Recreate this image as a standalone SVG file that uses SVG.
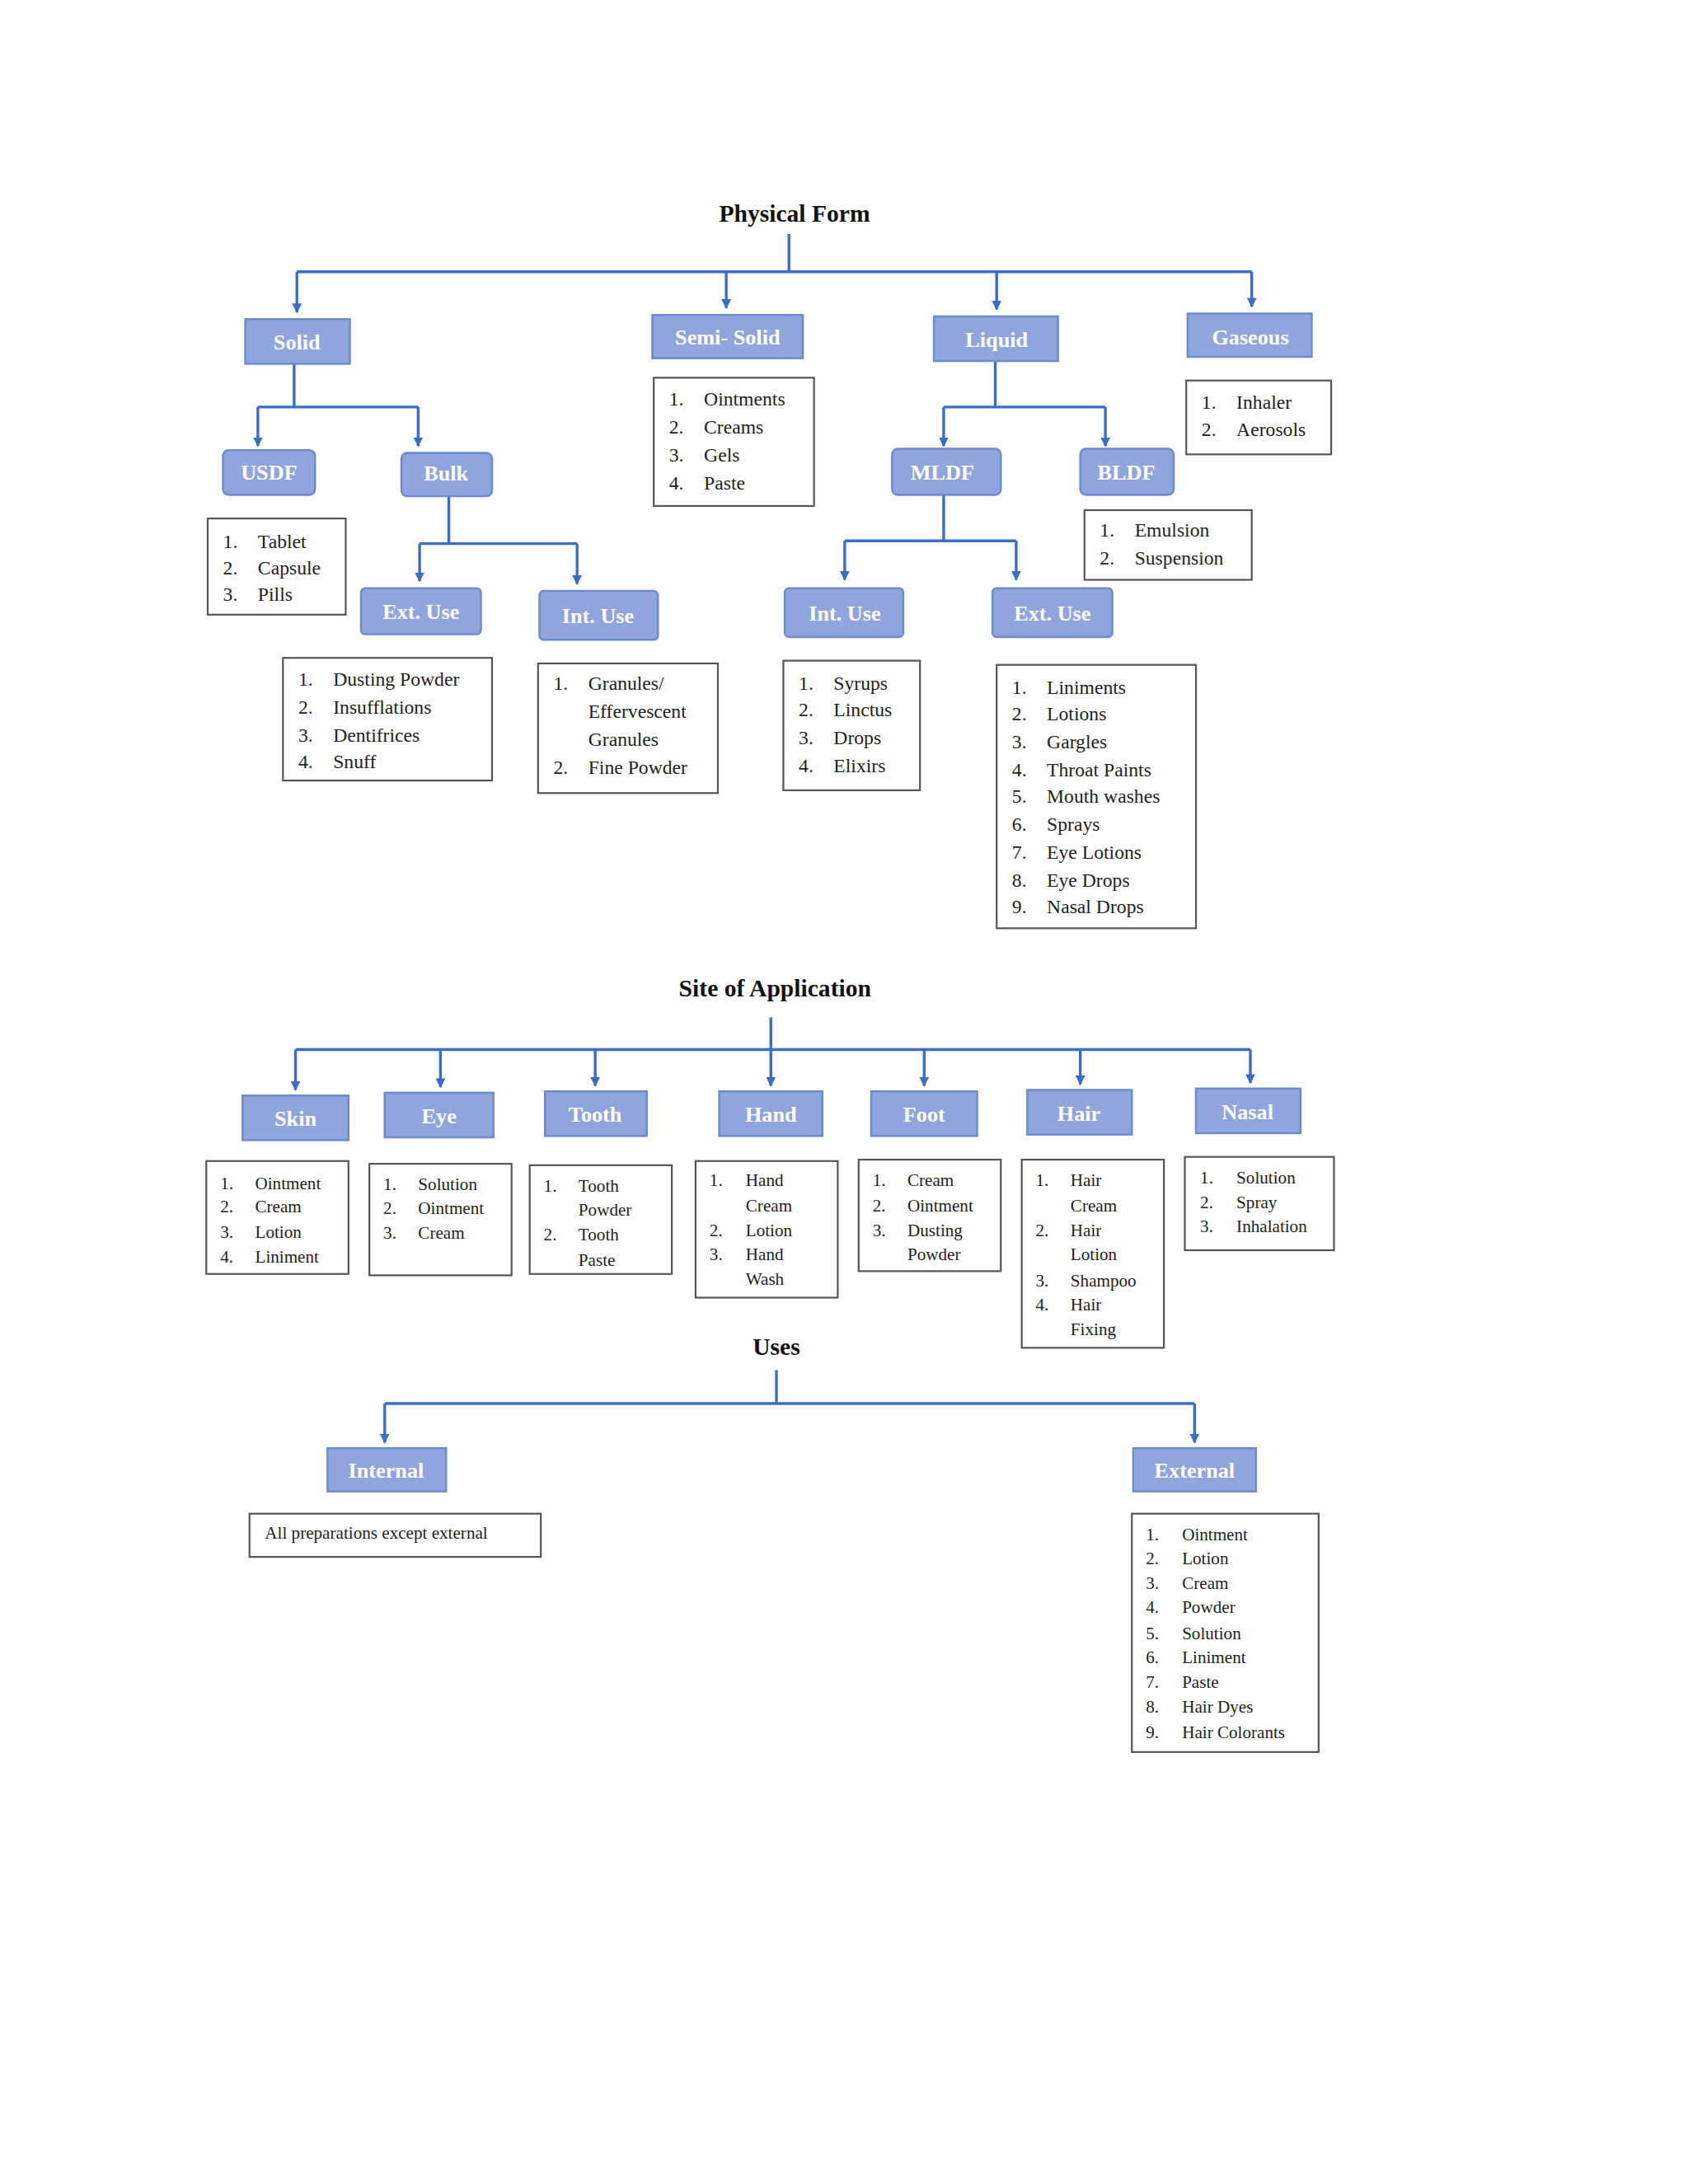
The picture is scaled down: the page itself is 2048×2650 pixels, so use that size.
<svg xmlns="http://www.w3.org/2000/svg" width="2048" height="2650" viewBox="0 0 2048 2650">
<defs>
<style>
.t{font-family:"Liberation Serif",serif;font-weight:bold;font-size:17.5px;fill:#111;text-anchor:middle}
.b rect{fill:#8FA5DC;stroke:#6D8CCF;stroke-width:1.5}
.b text{font-family:"Liberation Serif",serif;font-weight:bold;font-size:15.5px;fill:#fff;text-anchor:middle}
.l rect{fill:#fff;stroke:#555;stroke-width:1.3}
.l text{font-family:"Liberation Serif",serif;font-size:14px;fill:#222}
.s text{font-size:12.5px}
#c path{fill:none;stroke:#3A6CC8;stroke-width:2}
</style>
<marker id="a" markerWidth="8" markerHeight="8" refX="4" refY="6" orient="auto" markerUnits="userSpaceOnUse"><path d="M0,0 L8,0 L4,7 z" fill="#3A6CC8" transform="rotate(-90 4 4)"/></marker>
<marker id="ar" viewBox="0 0 10 10" refX="9" refY="5" markerWidth="7" markerHeight="7" orient="auto" markerUnits="userSpaceOnUse"><path d="M0,0 L10,5 L0,10 z" fill="#3A6CC8"/></marker>
</defs>
<rect width="2048" height="2650" fill="#fff"/>
<g transform="scale(1.6912)">
<text class="t" x="570" y="159">Physical Form</text>
<text class="t" x="556" y="715">Site of Application</text>
<text class="t" x="557" y="972">Uses</text>
<g id="c">
<path d="M566,168 V195 M213,195 H898"/>
<path d="M213,195 V224" marker-end="url(#ar)"/>
<path d="M521,195 V221" marker-end="url(#ar)"/>
<path d="M715,195 V222" marker-end="url(#ar)"/>
<path d="M898,195 V220" marker-end="url(#ar)"/>
<path d="M211,261 V292 M185,292 H300"/>
<path d="M185,292 V320" marker-end="url(#ar)"/>
<path d="M300,292 V320" marker-end="url(#ar)"/>
<path d="M322,356 V390 M301,390 H414"/>
<path d="M301,390 V417" marker-end="url(#ar)"/>
<path d="M414,390 V419" marker-end="url(#ar)"/>
<path d="M714,259 V292 M677,292 H793"/>
<path d="M677,292 V320" marker-end="url(#ar)"/>
<path d="M793,292 V320" marker-end="url(#ar)"/>
<path d="M677,355 V388 M606,388 H729"/>
<path d="M606,388 V416" marker-end="url(#ar)"/>
<path d="M729,388 V416" marker-end="url(#ar)"/>
<path d="M553,730 V753 M212,753 H897"/>
<path d="M212,753 V782" marker-end="url(#ar)"/>
<path d="M316,753 V780" marker-end="url(#ar)"/>
<path d="M427,753 V779" marker-end="url(#ar)"/>
<path d="M553,753 V779" marker-end="url(#ar)"/>
<path d="M663,753 V779" marker-end="url(#ar)"/>
<path d="M775,753 V778" marker-end="url(#ar)"/>
<path d="M897,753 V777" marker-end="url(#ar)"/>
<path d="M557,983 V1007 M276,1007 H857"/>
<path d="M276,1007 V1035" marker-end="url(#ar)"/>
<path d="M857,1007 V1035" marker-end="url(#ar)"/>
</g>
<g id="solid" class="b"><rect x="176" y="229" width="75" height="32"/><text x="213" y="251">Solid</text></g>
<g id="semisolid" class="b"><rect x="468" y="226" width="108" height="31"/><text x="522" y="247">Semi- Solid</text></g>
<g id="liquid" class="b"><rect x="670" y="227" width="89" height="32"/><text x="715" y="249">Liquid</text></g>
<g id="gaseous" class="b"><rect x="852" y="225" width="89" height="31"/><text x="897" y="247">Gaseous</text></g>
<g id="usdf" class="b"><rect x="160" y="323" width="66" height="32" rx="4"/><text x="193" y="344">USDF</text></g>
<g id="bulk" class="b"><rect x="288" y="325" width="65" height="31" rx="4"/><text x="320" y="345">Bulk</text></g>
<g id="mldf" class="b"><rect x="640" y="322" width="78" height="33" rx="4"/><text x="676" y="344">MLDF</text></g>
<g id="bldf" class="b"><rect x="775" y="322" width="67" height="33" rx="4"/><text x="808" y="344">BLDF</text></g>
<g id="bulk-ext" class="b"><rect x="259" y="422" width="86" height="33" rx="3"/><text x="302" y="444">Ext. Use</text></g>
<g id="bulk-int" class="b"><rect x="387" y="424" width="85" height="35" rx="3"/><text x="429" y="447">Int. Use</text></g>
<g id="mldf-int" class="b"><rect x="563" y="422" width="85" height="35" rx="3"/><text x="606" y="445">Int. Use</text></g>
<g id="mldf-ext" class="b"><rect x="712" y="422" width="86" height="35" rx="3"/><text x="755" y="445">Ext. Use</text></g>

<g id="list-semisolid" class="l"><rect x="469" y="271" width="115" height="92"/>
<text x="480" y="291">1.</text><text x="505" y="291">Ointments</text>
<text x="480" y="311">2.</text><text x="505" y="311">Creams</text>
<text x="480" y="331">3.</text><text x="505" y="331">Gels</text>
<text x="480" y="351">4.</text><text x="505" y="351">Paste</text></g>
<g id="list-gaseous" class="l"><rect x="851" y="273" width="104" height="53"/>
<text x="862" y="293">1.</text><text x="887" y="293">Inhaler</text>
<text x="862" y="313">2.</text><text x="887" y="313">Aerosols</text></g>
<g id="list-usdf" class="l"><rect x="149" y="372" width="99" height="69"/>
<text x="160" y="393">1.</text><text x="185" y="393">Tablet</text>
<text x="160" y="412">2.</text><text x="185" y="412">Capsule</text>
<text x="160" y="431">3.</text><text x="185" y="431">Pills</text></g>
<g id="list-bulk-ext" class="l"><rect x="203" y="472" width="150" height="88"/>
<text x="214" y="492">1.</text><text x="239" y="492">Dusting Powder</text>
<text x="214" y="512">2.</text><text x="239" y="512">Insufflations</text>
<text x="214" y="532">3.</text><text x="239" y="532">Dentifrices</text>
<text x="214" y="551">4.</text><text x="239" y="551">Snuff</text></g>
<g id="list-bulk-int" class="l"><rect x="386" y="476" width="129" height="93"/>
<text x="397" y="495">1.</text><text x="422" y="495">Granules/</text>
<text x="422" y="515">Effervescent</text>
<text x="422" y="535">Granules</text>
<text x="397" y="555">2.</text><text x="422" y="555">Fine Powder</text></g>
<g id="list-bldf" class="l"><rect x="778" y="366" width="120" height="50"/>
<text x="789" y="385">1.</text><text x="814" y="385">Emulsion</text>
<text x="789" y="405">2.</text><text x="814" y="405">Suspension</text></g>
<g id="list-mldf-int" class="l"><rect x="562" y="474" width="98" height="93"/>
<text x="573" y="495">1.</text><text x="598" y="495">Syrups</text>
<text x="573" y="514">2.</text><text x="598" y="514">Linctus</text>
<text x="573" y="534">3.</text><text x="598" y="534">Drops</text>
<text x="573" y="554">4.</text><text x="598" y="554">Elixirs</text></g>
<g id="list-mldf-ext" class="l"><rect x="715" y="477" width="143" height="189"/>
<text x="726" y="498">1.</text><text x="751" y="498">Liniments</text>
<text x="726" y="517">2.</text><text x="751" y="517">Lotions</text>
<text x="726" y="537">3.</text><text x="751" y="537">Gargles</text>
<text x="726" y="557">4.</text><text x="751" y="557">Throat Paints</text>
<text x="726" y="576">5.</text><text x="751" y="576">Mouth washes</text>
<text x="726" y="596">6.</text><text x="751" y="596">Sprays</text>
<text x="726" y="616">7.</text><text x="751" y="616">Eye Lotions</text>
<text x="726" y="636">8.</text><text x="751" y="636">Eye Drops</text>
<text x="726" y="655">9.</text><text x="751" y="655">Nasal Drops</text></g>

<g id="skin" class="b"><rect x="174" y="786" width="76" height="32"/><text x="212" y="808">Skin</text></g>
<g id="eye" class="b"><rect x="276" y="784" width="78" height="32"/><text x="315" y="806">Eye</text></g>
<g id="tooth" class="b"><rect x="391" y="783" width="73" height="32"/><text x="427" y="805">Tooth</text></g>
<g id="hand" class="b"><rect x="516" y="783" width="74" height="32"/><text x="553" y="805">Hand</text></g>
<g id="foot" class="b"><rect x="625" y="783" width="76" height="32"/><text x="663" y="805">Foot</text></g>
<g id="hair" class="b"><rect x="737" y="782" width="75" height="32"/><text x="774" y="804">Hair</text></g>
<g id="nasal" class="b"><rect x="858" y="781" width="75" height="32"/><text x="895" y="803">Nasal</text></g>

<g id="list-skin" class="l s"><rect x="148" y="833" width="102" height="81"/>
<text x="158" y="853">1.</text><text x="183" y="853">Ointment</text>
<text x="158" y="870">2.</text><text x="183" y="870">Cream</text>
<text x="158" y="888">3.</text><text x="183" y="888">Lotion</text>
<text x="158" y="906">4.</text><text x="183" y="906">Liniment</text></g>
<g id="list-eye" class="l s"><rect x="265" y="835" width="102" height="80"/>
<text x="275" y="854">1.</text><text x="300" y="854">Solution</text>
<text x="275" y="871">2.</text><text x="300" y="871">Ointment</text>
<text x="275" y="889">3.</text><text x="300" y="889">Cream</text></g>
<g id="list-tooth" class="l s"><rect x="380" y="836" width="102" height="78"/>
<text x="390" y="855">1.</text><text x="415" y="855">Tooth</text>
<text x="415" y="872">Powder</text>
<text x="390" y="890">2.</text><text x="415" y="890">Tooth</text>
<text x="415" y="908">Paste</text></g>
<g id="list-hand" class="l s"><rect x="499" y="833" width="102" height="98"/>
<text x="509" y="851">1.</text><text x="535" y="851">Hand</text>
<text x="535" y="869">Cream</text>
<text x="509" y="887">2.</text><text x="535" y="887">Lotion</text>
<text x="509" y="904">3.</text><text x="535" y="904">Hand</text>
<text x="535" y="922">Wash</text></g>
<g id="list-foot" class="l s"><rect x="616" y="832" width="102" height="80"/>
<text x="626" y="851">1.</text><text x="651" y="851">Cream</text>
<text x="626" y="869">2.</text><text x="651" y="869">Ointment</text>
<text x="626" y="887">3.</text><text x="651" y="887">Dusting</text>
<text x="651" y="904">Powder</text></g>
<g id="list-hair" class="l s"><rect x="733" y="832" width="102" height="135"/>
<text x="743" y="851">1.</text><text x="768" y="851">Hair</text>
<text x="768" y="869">Cream</text>
<text x="743" y="887">2.</text><text x="768" y="887">Hair</text>
<text x="768" y="904">Lotion</text>
<text x="743" y="923">3.</text><text x="768" y="923">Shampoo</text>
<text x="743" y="940">4.</text><text x="768" y="940">Hair</text>
<text x="768" y="958">Fixing</text></g>
<g id="list-nasal" class="l s"><rect x="850" y="830" width="107" height="67"/>
<text x="861" y="849">1.</text><text x="887" y="849">Solution</text>
<text x="861" y="867">2.</text><text x="887" y="867">Spray</text>
<text x="861" y="884">3.</text><text x="887" y="884">Inhalation</text></g>

<g id="internal" class="b"><rect x="235" y="1039" width="85" height="31"/><text x="277" y="1060">Internal</text></g>
<g id="external" class="b"><rect x="813" y="1039" width="88" height="31"/><text x="857" y="1060">External</text></g>
<g id="list-internal" class="l s"><rect x="179" y="1086" width="209" height="31"/>
<text x="190" y="1104">All preparations except external</text></g>
<g id="list-external" class="l s"><rect x="812" y="1086" width="134" height="171"/>
<text x="822" y="1105">1.</text><text x="848" y="1105">Ointment</text>
<text x="822" y="1122">2.</text><text x="848" y="1122">Lotion</text>
<text x="822" y="1140">3.</text><text x="848" y="1140">Cream</text>
<text x="822" y="1157">4.</text><text x="848" y="1157">Powder</text>
<text x="822" y="1176">5.</text><text x="848" y="1176">Solution</text>
<text x="822" y="1193">6.</text><text x="848" y="1193">Liniment</text>
<text x="822" y="1211">7.</text><text x="848" y="1211">Paste</text>
<text x="822" y="1229">8.</text><text x="848" y="1229">Hair Dyes</text>
<text x="822" y="1247">9.</text><text x="848" y="1247">Hair Colorants</text></g>
</g>
</svg>
